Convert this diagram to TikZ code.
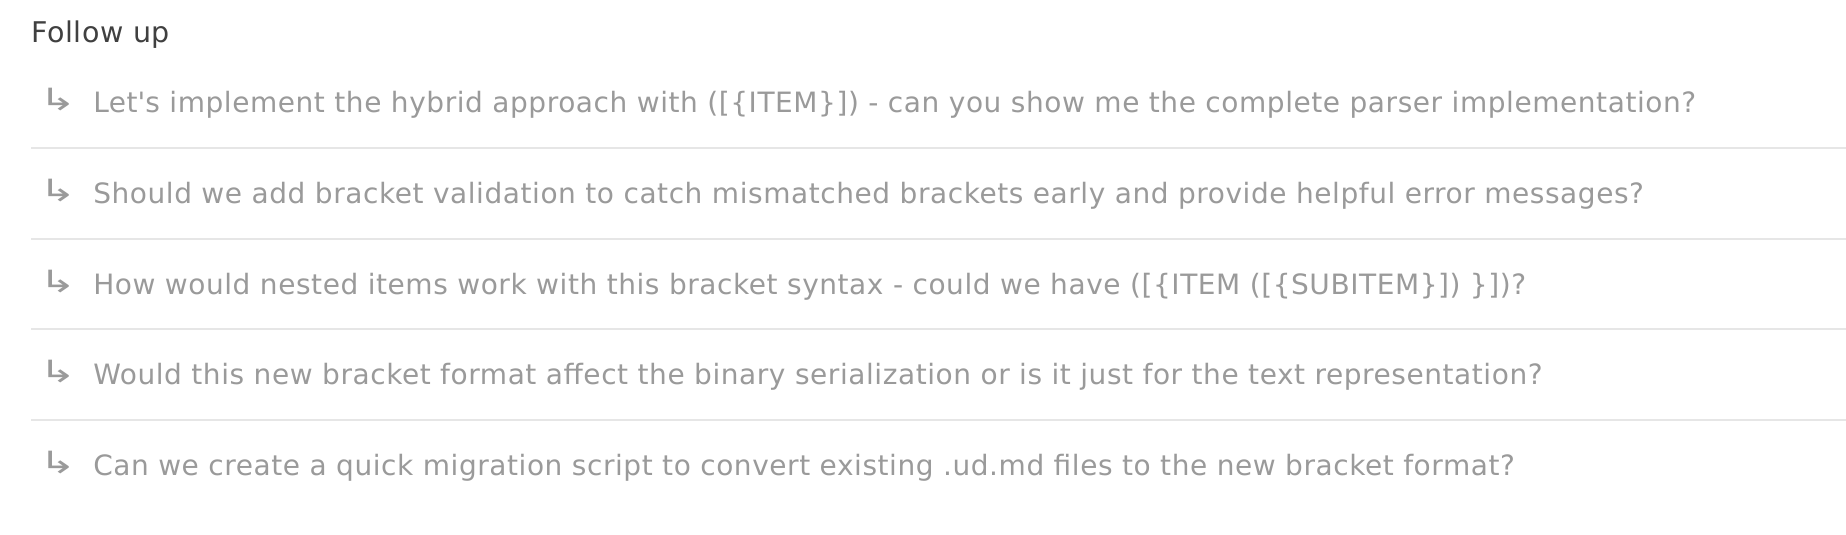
\documentclass[tikz,border=0pt]{standalone}
\usepackage{fontspec}
\setmainfont{DejaVu Sans}[LetterSpace=2.0]
\newfontfamily\arrowfont{DejaVu Sans}
\definecolor{titlecol}{HTML}{404040}
\definecolor{itemcol}{HTML}{9A9A9A}
\definecolor{rulecol}{HTML}{E6E6E6}
\begin{document}
\begin{tikzpicture}[x=0.75pt,y=-0.75pt,
  titletext/.style={anchor=base west,inner sep=0pt,text=titlecol,font=\fontsize{21.4pt}{24pt}\selectfont},
  itemtext/.style={anchor=base west,inner sep=0pt,text=itemcol,font=\fontsize{21pt}{24pt}\selectfont},
  arrowmark/.style={anchor=base west,inner sep=0pt,text=itemcol,font=\arrowfont\fontsize{23pt}{26pt}\selectfont},
  sepline/.style={draw=rulecol,line width=1.5pt}]
\useasboundingbox[fill=white] (0,0) rectangle (1846,535);
\node[titletext] (title) at (31,43) {Follow up};
\foreach \i/\y/\t in {
  1/113/{Let\textquotesingle s implement the hybrid approach with ([\{ITEM\}]) - can you show me the complete parser implementation?},
  2/203.5/{Should we add bracket validation to catch mismatched brackets early and provide helpful error messages?},
  3/294/{How would nested items work with this bracket syntax - could we have ([\{ITEM ([\{SUBITEM\}]) \}])?},
  4/384.5/{Would this new bracket format affect the binary serialization or is it just for the text representation?},
  5/475/{Can we create a quick migration script to convert existing .ud.md files to the new bracket format?}} {
  \node[arrowmark] (a\i) at (39,\y-2) {\scalebox{1.45}[1]{↳}};
  \node[itemtext] (q\i) at (93,\y) {\t};
}
\foreach \i/\y in {1/148,2/238.5,3/329,4/419.5} {
  \coordinate (sl\i) at (31,\y);
  \coordinate (sr\i) at (1846,\y);
  \draw[sepline] (sl\i) -- (sr\i);
}
\end{tikzpicture}
\end{document}
